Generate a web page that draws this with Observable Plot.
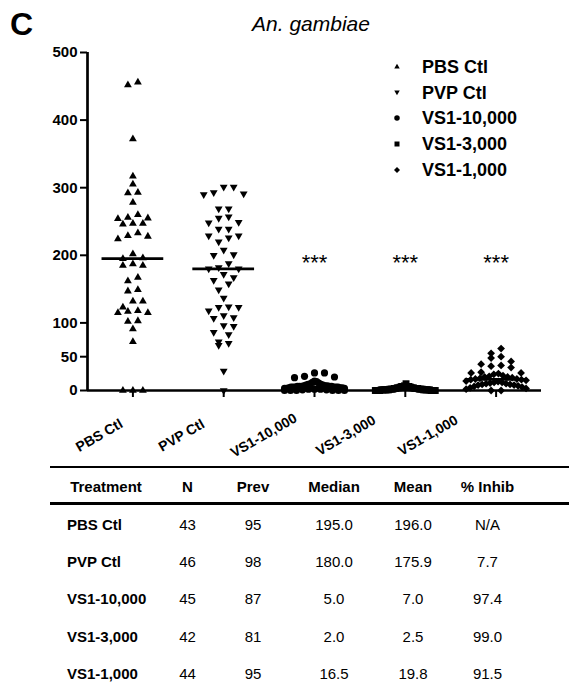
<!DOCTYPE html>
<html>
<head>
<meta charset="utf-8">
<script src="https://cdn.jsdelivr.net/npm/d3@7"></script>
<script src="https://cdn.jsdelivr.net/npm/@observablehq/plot@0.6"></script>
<style>
  body { margin: 0; background: #fff; color: #000; font-family: "Liberation Sans", Arial, sans-serif; }
  #wrap { position: relative; width: 569px; height: 689px; overflow: hidden; background: #fff; }
  #chart { position: absolute; left: 0; top: 0; }
  .abs { position: absolute; white-space: nowrap; line-height: 1; }
  .panel { left: 10px; top: 8px; font-size: 32px; font-weight: bold; }
  .title { left: 211px; width: 200px; top: 13px; text-align: center; font-size: 21px; font-style: italic; }
  .leg { font-size: 18px; font-weight: bold; }
  .cell { font-size: 15px; text-align: center; width: 120px; }
  .bold { font-weight: bold; }
  .hline { position: absolute; left: 50px; right: 0; height: 2.6px; background: #000; }
</style>
</head>
<body>
<div id="wrap"></div>
<script>
// ---------- data ----------
const groups = ["PBS Ctl", "PVP Ctl", "VS1-10,000", "VS1-3,000", "VS1-1,000"];

const pbsCtl = [456, 452, 372, 317, 305, 293, 292, 278, 260, 256, 255, 254, 247, 247, 246,
  233, 229, 228, 224, 202, 196, 195, 187, 185, 185, 167, 162, 149, 147, 132, 132,
  123, 118, 117, 115, 115, 103, 102, 91, 72, 0, 0, 0];
const pvpCtl = [301, 301, 293, 291, 290, 269, 269, 257, 255, 249, 248, 239, 239,
  229, 229, 226, 220, 208, 201, 200, 188, 182, 180, 180, 172, 167, 163, 158, 149, 137,
  124, 123, 123, 118, 111, 108, 107, 96, 95, 86, 83, 72, 70, 67, 29, 0];
const vs10000 = [26, 26, 21, 20, 19, 14, 13, 12, 11, 10, 9, 9, 8, 8, 7, 7, 7, 6, 6, 6, 6, 6,
  5, 5, 5, 5, 5, 5, 4, 4, 4, 3, 3, 3, 2, 2, 2, 1, 1, 0, 0, 0, 0, 0, 0];
const vs3000 = [10, 7, 6, 6, 6, 6, 5, 5, 4, 4, 4, 4, 3, 3, 3, 3, 3, 2, 2, 2, 2, 2, 2,
  1, 1, 1, 1, 1, 1, 1, 1, 1, 1, 1, 0, 0, 0, 0, 0, 0, 0, 0];
const vs1000 = [62, 55, 50, 48, 43, 39, 37, 36, 34, 27, 26, 26, 25, 24, 22, 21, 20, 20, 19, 18,
  17, 17, 16, 16, 15, 14, 13, 12, 12, 11, 10, 10, 9, 9, 8, 8, 7, 6, 5, 4, 3, 2, 0, 0];

const yTicks = [0, 50, 100, 200, 300, 400, 500];
const significance = ["", "", "***", "***", "***"];

const tableHeaders = ["Treatment", "N", "Prev", "Median", "Mean", "% Inhib"];
const nValues = [43, 46, 45, 42, 44];
const prevValues = [95, 98, 87, 81, 95];
const medianValues = [195.0, 180.0, 5.0, 2.0, 16.5];
const meanValues = [196.0, 175.9, 7.0, 2.5, 19.8];
const inhibValues = [null, 7.7, 97.4, 99.0, 91.5];

// ---------- symbols ----------
const triangleDown = {
  draw(ctx, size) {
    const y = -Math.sqrt(size / (Math.sqrt(3) * 3));
    ctx.moveTo(0, -2 * y);
    ctx.lineTo(-Math.sqrt(3) * y, y);
    ctx.lineTo(Math.sqrt(3) * y, y);
    ctx.closePath();
  }
};
const symbols = [d3.symbolTriangle, triangleDown, d3.symbolCircle, d3.symbolSquare, d3.symbolDiamond2];
const radii = [2.9, 2.9, 3.6, 3.9, 3.5];

// ---------- scatter layout (Prism-like rows, centre-out) ----------
const series = [pbsCtl, pvpCtl, vs10000, vs3000, vs1000];
const binW = 11, step0 = 0.11, maxW = 0.66;
const points = [];
series.forEach((vals, gi) => {
  const sorted = [...vals].sort((a, b) => b - a);
  const rows = [];
  let cur = null;
  for (const v of sorted) {
    if (!cur || cur.start - v > binW) { cur = {start: v, vals: []}; rows.push(cur); }
    cur.vals.push(v);
  }
  for (const row of rows) {
    const n = row.vals.length;
    const step = n > 1 ? Math.min(step0, maxW / (n - 1)) : 0;
    const mid = (n - 1) / 2;
    const slots = d3.range(n).sort((a, b) => (Math.abs(a - mid) - Math.abs(b - mid)) || (b - a));
    row.vals.forEach((v, k) => points.push({gi, value: v, x: gi + (slots[k] - mid) * step}));
  }
});

const medianRows = groups.map((g, i) => ({gi: i, median: medianValues[i]}));
const FONT = '"Liberation Sans", Arial, sans-serif';

const chart = Plot.plot({
  width: 569,
  height: 460,
  marginLeft: 87,
  marginRight: 28,
  marginTop: 52,
  marginBottom: 70,
  x: {type: "linear", domain: [-0.5, 4.5]},
  y: {type: "linear", domain: [0, 500]},
  style: {fontFamily: FONT, color: "#000", background: "transparent", overflow: "visible"},
  marks: [
    ...groups.map((g, gi) => Plot.dot(points.filter(p => p.gi === gi), {
      x: "x", y: "value", symbol: symbols[gi], r: radii[gi], fill: "#000", stroke: "none"
    })),
    Plot.ruleY(medianRows, {y: "median", x1: d => d.gi - 0.34, x2: d => d.gi + 0.34, strokeWidth: 2.7, stroke: "#000"}),
    Plot.ruleX([-0.5], {y1: 0, y2: 500, strokeWidth: 2.7, stroke: "#000"}),
    Plot.ruleY([0], {x1: -0.5, x2: 4.5, strokeWidth: 2.7, stroke: "#000"}),
    Plot.axisY(yTicks, {tickSize: 7, tickPadding: 3, strokeWidth: 2, fontSize: 15, fontWeight: "bold", label: null}),
    Plot.axisX(d3.range(groups.length), {tickSize: 7, strokeWidth: 2, tickFormat: () => "", label: null}),
    Plot.text(groups, {
      x: (d, i) => i * 0.905 - 0.37, frameAnchor: "bottom", dy: 45, rotate: -30,
      text: d => d, fontSize: 14, fontWeight: "bold", textAnchor: "middle", lineAnchor: "middle"
    }),
    Plot.text(significance, {
      x: (d, i) => i, y: () => 189, text: d => d, fontSize: 22, textAnchor: "middle", lineAnchor: "middle"
    })
  ]
});
chart.id = "chart";

const wrap = document.getElementById("wrap");
wrap.appendChild(chart);

function addDiv(cls, text, style) {
  const el = document.createElement("div");
  el.className = "abs " + cls;
  el.textContent = text;
  Object.assign(el.style, style || {});
  wrap.appendChild(el);
  return el;
}

// panel letter & title
addDiv("panel", "C");
addDiv("title", "An. gambiae");

// legend
const legendSizes = [13, 13, 24, 25, 23];
groups.forEach((g, i) => {
  const cy = 66.7 + i * 25.7;
  const svg = d3.create("svg").attr("width", 14).attr("height", 14)
    .style("position", "absolute").style("left", (397 - 7) + "px").style("top", (cy - 7) + "px");
  svg.append("path").attr("transform", "translate(7,7)")
    .attr("d", d3.symbol().type(symbols[i]).size(legendSizes[i])()).attr("fill", "#000");
  wrap.appendChild(svg.node());
  addDiv("leg", g, {left: "422px", top: (cy + 6.3 - 15.2) + "px"});
});

// table
const hl1 = document.createElement("div"); hl1.className = "hline"; hl1.style.top = "465.5px"; wrap.appendChild(hl1);
const hl2 = document.createElement("div"); hl2.className = "hline"; hl2.style.top = "502px"; wrap.appendChild(hl2);

const colCenters = [106, 187.5, 253, 334, 413, 487.5];
const headerBaseline = 491.7;
const rowBaselines = [530, 566.7, 604, 641.7, 678.3];
const off = 15 * 0.8465;
tableHeaders.forEach((h, j) => {
  addDiv("cell bold", h, {left: (colCenters[j] - 60) + "px", top: (headerBaseline - off) + "px"});
});
groups.forEach((g, i) => {
  const top = (rowBaselines[i] - off) + "px";
  addDiv("cell bold", g, {left: "67px", top, textAlign: "left"});
  const vals = [
    String(nValues[i]),
    String(prevValues[i]),
    medianValues[i].toFixed(1),
    meanValues[i].toFixed(1),
    inhibValues[i] == null ? "N/A" : inhibValues[i].toFixed(1)
  ];
  vals.forEach((v, j) => addDiv("cell", v, {left: (colCenters[j + 1] - 60) + "px", top}));
});
</script>
</body>
</html>
